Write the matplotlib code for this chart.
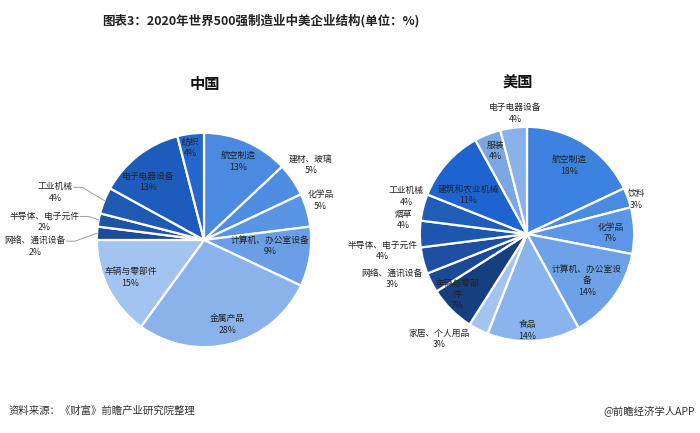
"""China vs US structure of Fortune 500 manufacturing companies (2020)."""

import matplotlib.pyplot as plt
import numpy as np

plt.rcParams["font.family"] = ["Noto Sans CJK SC", "DejaVu Sans"]

# ---- data -----------------------------------------------------------------
cn_labels = ["航空制造", "建材、玻璃", "化学品", "计算机、办公室设备", "金属产品",
             "车辆与零部件", "网络、通讯设备", "半导体、电子元件", "工业机械",
             "电子电器设备", "纺织"]
cn_values = [13, 5, 5, 9, 28, 15, 2, 2, 4, 13, 4]

us_labels = ["航空制造", "饮料", "化学品", "计算机、办公室设\n备", "食品",
             "家居、个人用品", "车辆与零部\n件", "网络、通讯设备", "半导体、电子元件",
             "烟草", "工业机械", "建筑和农业机械", "服装", "电子电器设备"]
us_values = [18, 3, 7, 14, 14, 3, 7, 3, 4, 4, 4, 11, 4, 4]

# ---- styles ---------------------------------------------------------------
cn_colors = ["#4a8ae0", "#4e8de2", "#5a95e4", "#6a9fe8", "#8ab3ec", "#a3c3f0",
             "#1c4c98", "#1e53a6", "#1f5ab2", "#1d5cbd", "#2466cc"]
us_colors = ["#3c82de", "#4a8be2", "#5c96e6", "#6ea2e8", "#8ab4ee", "#a4c4f0",
             "#163f80", "#1b4a94", "#1d50a2", "#1e57ae", "#1f5db8", "#1e64d0",
             "#7aa6e2", "#8ab2ea"]

# label placement: (radius, angle nudge in degrees, leader line?)
cn_place = [(0.80, 0, False), (1.22, 1, False), (1.15, 2.5, False), (0.62, 4, False),
            (0.82, 1, False), (0.77, 0, False), (1.58, 5.8, True), (1.50, 4.3, True),
            (1.46, 4, True), (0.75, 6, False), (0.87, 1, False)]
us_place = [(0.75, 1, False), (1.07, -2.4, False), (0.78, -1, False), (0.71, -2, False),
            (0.90, -3.6, False), (1.28, -13, False), (0.86, -4, False), (1.33, -8.6, False),
            (1.36, -7.6, False), (1.16, -6.5, False), (1.18, -2.8, False), (0.66, 8, False),
            (0.83, -1, False), (1.13, -1.6, False)]


def draw_pie(fig, rect, title, title_xy, labels, values, colors, place):
    ax = fig.add_axes(rect)
    wedges, _ = ax.pie(values, colors=colors, startangle=90, counterclock=False,
                       radius=1.0, wedgeprops=dict(edgecolor="white", linewidth=1.6))
    ax.set_xlim(-1.4, 1.4)
    ax.set_ylim(-1.4, 1.4)
    ax.set_aspect("equal")
    ax.axis("off")
    for w, lab, val, (r, nudge, leader) in zip(wedges, labels, values, place):
        mid = np.deg2rad((w.theta1 + w.theta2) / 2)
        ang = mid + np.deg2rad(nudge)
        tx, ty = r * np.cos(ang), r * np.sin(ang)
        if leader:
            half = len(lab) * 8.4 / 2 / 107
            ax.plot([tx + half + 0.02, tx + half + 0.1, np.cos(mid)],
                    [ty + 0.05, ty + 0.05, np.sin(mid)],
                    color="#a0a0a0", lw=0.7)
        ax.text(tx, ty, f"{lab}\n{val}%", ha="center", va="center", fontsize=6.3,
                color="#222222", linespacing=1.35)
    fig.text(*title_xy, title, ha="center", va="center",
             fontsize=11, fontweight="bold", color="#111111")
    return ax


fig = plt.figure(figsize=(7, 4.33), dpi=100)

draw_pie(fig, [54 / 700, 43 / 433, 300 / 700, 300 / 433], "中国", (205 / 700, 0.806),
         cn_labels, cn_values, cn_colors, cn_place)
draw_pie(fig, [377 / 700, 49 / 433, 300 / 700, 300 / 433], "美国", (518 / 700, 0.808),
         us_labels, us_values, us_colors, us_place)

fig.text(0.373, 0.953, "图表3：2020年世界500强制造业中美企业结构(单位：%)",
         ha="center", va="center", fontsize=9, fontweight="bold", color="#222222")
fig.text(0.012, 0.051, "资料来源：《财富》前瞻产业研究院整理", ha="left", va="center",
         fontsize=7.5, color="#333333")
fig.text(0.993, 0.051, "@前瞻经济学人APP", ha="right", va="center",
         fontsize=7.5, color="#333333")

fig.savefig("out.png", dpi=100)
